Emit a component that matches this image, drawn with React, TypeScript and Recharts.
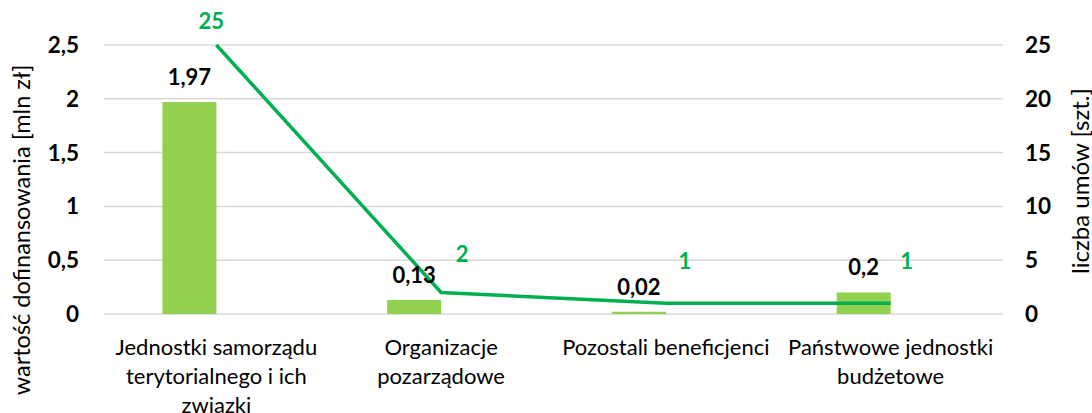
import React from "react";
import { ComposedChart, Bar, Line, XAxis, YAxis, CartesianGrid, LabelList } from "recharts";

const categories = [
  "Jednostki samorządu\nterytorialnego i ich\nzwiązki",
  "Organizacje\npozarządowe",
  "Pozostali beneficjenci",
  "Państwowe jednostki\nbudżetowe",
];
const fundingValues = [1.97, 0.13, 0.02, 0.2];
const contractCounts = [25, 2, 1, 1];
const leftTicks = [0, 0.5, 1, 1.5, 2, 2.5];
const rightTicks = [0, 5, 10, 15, 20, 25];
const leftAxisTitle = "wartość dofinansowania [mln zł]";
const rightAxisTitle = "liczba umów [szt.]";

const data = categories.map((name, i) => ({
  name,
  funding: fundingValues[i],
  contracts: contractCounts[i],
}));

const FONT = "Lato, 'Open Sans', sans-serif";
const BAR_COLOR = "#92D050";
const LINE_COLOR = "#00B050";
const GRID_COLOR = "#D9D9D9";

const fmt = (v: number) => String(v).replace(".", ",");

const CategoryTick = (props: any) => {
  const { x, y, payload } = props;
  const lines = String(payload.value).split("\n");
  return (
    <text x={x} y={y + 33} textAnchor="middle" fill="#000" fontFamily={FONT} fontSize={22}>
      {lines.map((l: string, i: number) => (
        <tspan key={i} x={x} dy={i === 0 ? 0 : 29}>
          {l}
        </tspan>
      ))}
    </text>
  );
};

const lineLabelDx = [-5, 21, 19, 16];
const lineLabelDy = [-16, -30, -34, -34];

const LineLabel = (props: any) => {
  const { x, y, value, index } = props;
  return (
    <text
      x={x + (lineLabelDx[index] ?? 18)}
      y={y + (lineLabelDy[index] ?? -32)}
      textAnchor="middle"
      fill={LINE_COLOR}
      fontFamily={FONT}
      fontWeight="bold"
      fontSize={22}
    >
      {value}
    </text>
  );
};

const LeftTitle = () => (
  <text
    x={21}
    y={230}
    transform="rotate(-90 21 230)"
    textAnchor="middle"
    dominantBaseline="central"
    fontFamily={FONT}
    fontSize={23.5}
    fill="#000"
  >
    {leftAxisTitle}
  </text>
);

const RightTitle = () => (
  <text
    x={1079}
    y={181}
    transform="rotate(-90 1079 181)"
    textAnchor="middle"
    dominantBaseline="central"
    fontFamily={FONT}
    fontSize={24}
    fill="#000"
  >
    {rightAxisTitle}
  </text>
);

export default function App() {
  return (
    <div style={{ position: "absolute", left: 0, top: 0, background: "#fff" }}>
      <ComposedChart
        width={1092}
        height={413}
        data={data}
        margin={{ top: 45, right: 0, bottom: 0, left: 0 }}
        barCategoryGap="26%"
        barGap={0}
      >
        <CartesianGrid yAxisId="left" vertical={false} stroke={GRID_COLOR} strokeWidth={1.5} />
        <XAxis
          dataKey="name"
          height={99}
          axisLine={false}
          tickLine={false}
          tick={<CategoryTick />}
          interval={0}
        />
        <YAxis
          yAxisId="left"
          width={104}
          domain={[0, 2.5]}
          ticks={leftTicks}
          tickFormatter={fmt}
          axisLine={false}
          tickLine={false}
          tickSize={0}
          tickMargin={25}
          tick={{ fill: "#000", fontFamily: FONT, fontWeight: "bold", fontSize: 22.5 }}
          label={<LeftTitle />}
        />
        <YAxis
          yAxisId="right"
          orientation="right"
          width={89}
          domain={[0, 25]}
          ticks={rightTicks}
          axisLine={false}
          tickLine={false}
          tickSize={0}
          tickMargin={22}
          tick={{ fill: "#000", fontFamily: FONT, fontWeight: "bold", fontSize: 22.5, textAnchor: "start" }}
          label={<RightTitle />}
        />
        <Bar yAxisId="left" dataKey="funding" fill={BAR_COLOR} isAnimationActive={false}>
          <LabelList
            dataKey="funding"
            position="top"
            offset={17}
            formatter={(v: any) => fmt(v)}
            style={{ fill: "#000", fontFamily: FONT, fontWeight: "bold", fontSize: 22 }}
          />
        </Bar>
        <Bar yAxisId="left" dataKey="spacer" fill="transparent" isAnimationActive={false} />
        <Line
          yAxisId="right"
          dataKey="contracts"
          stroke={LINE_COLOR}
          strokeWidth={3.5}
          dot={false}
          activeDot={false}
          isAnimationActive={false}
        >
          <LabelList dataKey="contracts" content={<LineLabel />} />
        </Line>
      </ComposedChart>
    </div>
  );
}
